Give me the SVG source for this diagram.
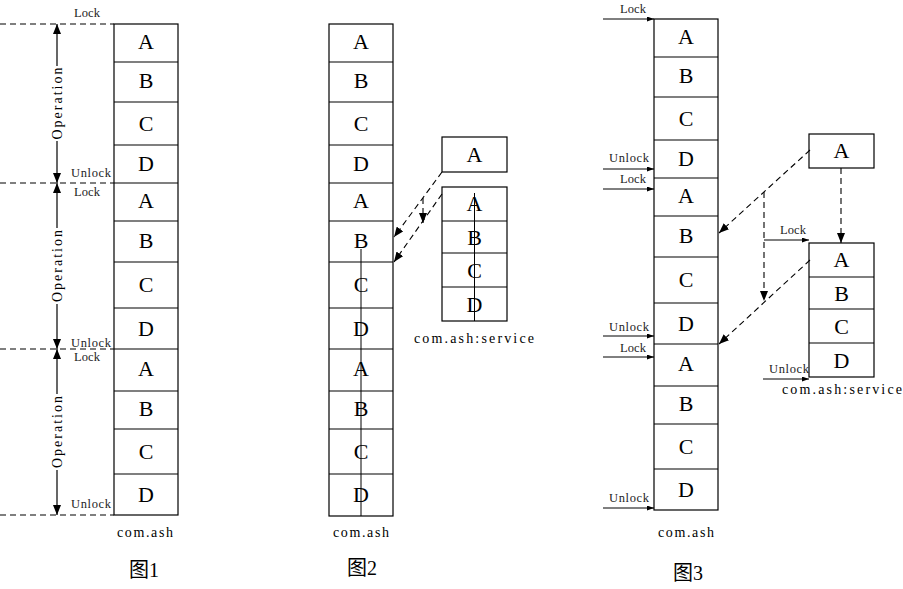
<svg xmlns="http://www.w3.org/2000/svg" width="903" height="589" viewBox="0 0 903 589">
<style>
.cell{fill:#fff;stroke:#000;stroke-width:1.2}
.sep{stroke:#000;stroke-width:1.2}
.let{font-family:"Liberation Serif",serif;font-size:22px;text-anchor:middle;fill:#000}
.lbl{font-family:"Liberation Serif",serif;font-size:12.5px;fill:#222}
.cap{font-family:"Liberation Serif",serif;font-size:14px;fill:#000;text-anchor:middle}
.fig{font-family:"Liberation Serif","Noto Sans CJK SC",serif;font-size:20px;fill:#000;text-anchor:middle}
.dash{stroke:#000;stroke-width:1.1;stroke-dasharray:6 4;fill:none}
.solid{stroke:#000;stroke-width:1.2;fill:none}
.thin{stroke:#000;stroke-width:1;fill:none}
</style>
<defs>
<marker id="ah" markerUnits="userSpaceOnUse" viewBox="0 0 10 8" refX="10" refY="4" markerWidth="10" markerHeight="8" orient="auto"><path d="M0,0 L10,4 L0,8 z" fill="#000"/></marker>
<marker id="sa" markerUnits="userSpaceOnUse" viewBox="0 0 7 5" refX="7" refY="2.5" markerWidth="7" markerHeight="5" orient="auto"><path d="M0,0 L7,2.5 L0,5 z" fill="#000"/></marker>
</defs>

<!-- Figure 1 -->
<g id="fig1-column">
<rect class="cell" x="114" y="24" width="64" height="491"/>
<path class="sep" d="M114,62H178M114,102H178M114,145H178M114,183H178M114,221H178M114,262H178M114,308H178M114,349H178M114,391H178M114,429H178M114,474H178"/>
<text class="let" x="146" y="49">A</text>
<text class="let" x="146" y="88">B</text>
<text class="let" x="146" y="131">C</text>
<text class="let" x="146" y="171">D</text>
<text class="let" x="146" y="208">A</text>
<text class="let" x="146" y="248">B</text>
<text class="let" x="146" y="292">C</text>
<text class="let" x="146" y="336">D</text>
<text class="let" x="146" y="376">A</text>
<text class="let" x="146" y="416">B</text>
<text class="let" x="146" y="459">C</text>
<text class="let" x="146" y="502">D</text>
<text class="cap" x="145" y="537" textLength="56" lengthAdjust="spacing">com.ash</text>
<text class="fig" x="144" y="577">图1</text>
</g>
<g id="fig1-labels">
<text class="lbl" x="74" y="17" textLength="26" lengthAdjust="spacing">Lock</text>
<text class="lbl" x="71" y="177" textLength="40" lengthAdjust="spacing">Unlock</text>
<text class="lbl" x="74" y="196" textLength="26" lengthAdjust="spacing">Lock</text>
<text class="lbl" x="71" y="347" textLength="40" lengthAdjust="spacing">Unlock</text>
<text class="lbl" x="74" y="361" textLength="26" lengthAdjust="spacing">Lock</text>
<text class="lbl" x="71" y="508" textLength="40" lengthAdjust="spacing">Unlock</text>
<text class="cap" transform="translate(57,103.5) rotate(-90)" dominant-baseline="central" textLength="72" lengthAdjust="spacing">Operation</text>
<text class="cap" transform="translate(57,266) rotate(-90)" dominant-baseline="central" textLength="72" lengthAdjust="spacing">Operation</text>
<text class="cap" transform="translate(57,432) rotate(-90)" dominant-baseline="central" textLength="72" lengthAdjust="spacing">Operation</text>
</g>
<g id="fig1-connectors">
<path class="dash" d="M0,24H114M0,183H114M0,349H114M0,515H114"/>
<line class="solid" x1="57" y1="66" x2="57" y2="24" marker-end="url(#ah)"/>
<line class="solid" x1="57" y1="141" x2="57" y2="183" marker-end="url(#ah)"/>
<line class="solid" x1="57" y1="228" x2="57" y2="183" marker-end="url(#ah)"/>
<line class="solid" x1="57" y1="304" x2="57" y2="349" marker-end="url(#ah)"/>
<line class="solid" x1="57" y1="394" x2="57" y2="349" marker-end="url(#ah)"/>
<line class="solid" x1="57" y1="470" x2="57" y2="515" marker-end="url(#ah)"/>
</g>

<!-- Figure 2 -->
<g id="fig2-column">
<rect class="cell" x="329" y="24" width="64" height="492"/>
<path class="sep" d="M329,62H393M329,102H393M329,145H393M329,183H393M329,221H393M329,262H393M329,308H393M329,349H393M329,391H393M329,429H393M329,474H393"/>
<text class="let" x="361" y="49">A</text>
<text class="let" x="361" y="88">B</text>
<text class="let" x="361" y="131">C</text>
<text class="let" x="361" y="171">D</text>
<text class="let" x="361" y="208">A</text>
<text class="let" x="361" y="248">B</text>
<text class="let" x="361" y="292">C</text>
<text class="let" x="361" y="336">D</text>
<text class="let" x="361" y="376">A</text>
<text class="let" x="361" y="416">B</text>
<text class="let" x="361" y="459">C</text>
<text class="let" x="361" y="502">D</text>
<line class="thin" x1="361" y1="249" x2="361" y2="516"/>
<text class="cap" x="361" y="537" textLength="56" lengthAdjust="spacing">com.ash</text>
<text class="fig" x="362" y="575">图2</text>
</g>
<g id="fig2-boxA">
<rect class="cell" x="442" y="137" width="65" height="35"/>
<text class="let" x="474.5" y="162">A</text>
</g>
<g id="fig2-service">
<rect class="cell" x="442" y="187" width="65" height="134"/>
<path class="sep" d="M442,221H507M442,253H507M442,287H507"/>
<text class="let" x="474.5" y="211">A</text>
<text class="let" x="474.5" y="245">B</text>
<text class="let" x="474.5" y="278">C</text>
<text class="let" x="474.5" y="312">D</text>
<line class="thin" x1="474.5" y1="193" x2="474.5" y2="321"/>
<text class="cap" x="474" y="343" textLength="120" lengthAdjust="spacing">com.ash:service</text>
</g>
<g id="fig2-connectors">
<line class="dash" x1="442" y1="172" x2="394" y2="237" marker-end="url(#ah)"/>
<line class="dash" x1="442" y1="194" x2="394" y2="262" marker-end="url(#ah)"/>
<line class="dash" x1="423" y1="198" x2="423" y2="223" marker-end="url(#ah)"/>
</g>

<!-- Figure 3 -->
<g id="fig3-column">
<rect class="cell" x="654" y="19" width="64" height="491"/>
<path class="sep" d="M654,57H718M654,97H718M654,140H718M654,178H718M654,216H718M654,257H718M654,303H718M654,344H718M654,386H718M654,424H718M654,469H718"/>
<text class="let" x="686" y="44">A</text>
<text class="let" x="686" y="83">B</text>
<text class="let" x="686" y="126">C</text>
<text class="let" x="686" y="166">D</text>
<text class="let" x="686" y="203">A</text>
<text class="let" x="686" y="243">B</text>
<text class="let" x="686" y="287">C</text>
<text class="let" x="686" y="331">D</text>
<text class="let" x="686" y="371">A</text>
<text class="let" x="686" y="411">B</text>
<text class="let" x="686" y="454">C</text>
<text class="let" x="686" y="497">D</text>
<text class="cap" x="686" y="537" textLength="56" lengthAdjust="spacing">com.ash</text>
<text class="fig" x="688" y="580">图3</text>
</g>
<g id="fig3-boxA">
<rect class="cell" x="809" y="134" width="65" height="34"/>
<text class="let" x="841.5" y="158">A</text>
</g>
<g id="fig3-service">
<rect class="cell" x="809" y="243" width="65" height="134"/>
<path class="sep" d="M809,277H874M809,309H874M809,343H874"/>
<text class="let" x="841.5" y="267">A</text>
<text class="let" x="841.5" y="301">B</text>
<text class="let" x="841.5" y="334">C</text>
<text class="let" x="841.5" y="368">D</text>
<text class="cap" x="842" y="394" textLength="120" lengthAdjust="spacing">com.ash:service</text>
</g>
<g id="fig3-labels">
<text class="lbl" x="620" y="13" textLength="26" lengthAdjust="spacing">Lock</text>
<text class="lbl" x="609" y="162" textLength="40" lengthAdjust="spacing">Unlock</text>
<text class="lbl" x="620" y="183" textLength="26" lengthAdjust="spacing">Lock</text>
<text class="lbl" x="609" y="331" textLength="40" lengthAdjust="spacing">Unlock</text>
<text class="lbl" x="620" y="352" textLength="26" lengthAdjust="spacing">Lock</text>
<text class="lbl" x="609" y="502" textLength="40" lengthAdjust="spacing">Unlock</text>
<text class="lbl" x="780" y="234" textLength="26" lengthAdjust="spacing">Lock</text>
<text class="lbl" x="769" y="373" textLength="40" lengthAdjust="spacing">Unlock</text>
</g>
<g id="fig3-connectors">
<line class="thin" x1="603" y1="19" x2="654" y2="19" marker-end="url(#sa)"/>
<line class="thin" x1="603" y1="169" x2="654" y2="169" marker-end="url(#sa)"/>
<line class="thin" x1="603" y1="189" x2="654" y2="189" marker-end="url(#sa)"/>
<line class="thin" x1="603" y1="336" x2="654" y2="336" marker-end="url(#sa)"/>
<line class="thin" x1="603" y1="357" x2="654" y2="357" marker-end="url(#sa)"/>
<line class="thin" x1="603" y1="508" x2="654" y2="508" marker-end="url(#sa)"/>
<line class="thin" x1="764" y1="240" x2="809" y2="240" marker-end="url(#sa)"/>
<line class="thin" x1="763" y1="379" x2="809" y2="379" marker-end="url(#sa)"/>
<line class="dash" x1="810" y1="150" x2="719" y2="233" marker-end="url(#ah)"/>
<line class="dash" x1="841" y1="168" x2="841" y2="243" marker-end="url(#ah)"/>
<line class="dash" x1="764" y1="192" x2="764" y2="301" marker-end="url(#ah)"/>
<line class="dash" x1="810" y1="260" x2="719" y2="344" marker-end="url(#ah)"/>
</g>
</svg>
